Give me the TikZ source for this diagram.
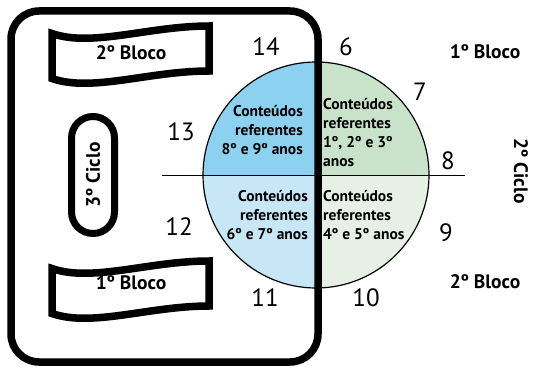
\documentclass[tikz,border=0pt]{standalone}
\usepackage{fontspec}
\setmainfont{PT Sans}
\usepackage{xcolor}
\usepackage{tikz}

\definecolor{azulforte}{HTML}{8DD1F0}
\definecolor{azulclaro}{HTML}{C7E6F6}
\definecolor{verdeforte}{HTML}{C8E3C9}
\definecolor{verdeclaro}{HTML}{E6F0E5}

\tikzset{
  num/.style={font=\fontsize{25}{25}\selectfont},
  rotulo/.style={font=\bfseries\fontsize{19.5}{19.5}\selectfont},
  quad/.style={font=\bfseries\fontsize{15.5}{19}\selectfont, inner sep=0pt},
  faixa/.style={line width=7.5pt, line join=miter}
}

\begin{document}
\begin{tikzpicture}[x=1pt,y=-1pt]
\useasboundingbox (0,0) rectangle (533,369);

% quadrantes do circulo
\begin{scope}
\clip (316,175) circle (113);
\fill[azulforte] (200,60) rectangle (318,175);
\fill[verdeforte] (318,60) rectangle (432,175);
\fill[azulclaro] (200,175) rectangle (318,290);
\fill[verdeclaro] (318,175) rectangle (432,290);
\end{scope}
\draw[line width=1.2pt] (316,175) circle (113);
\draw[line width=1pt] (162,175) -- (465,175);

% caixa do 3o ciclo
\draw[line width=7.5pt, rounded corners=28pt] (11,11) rectangle (318,362);

% faixas
\foreach \x/\y/\d/\t [count=\i] in {52/33.5/19/2º Bloco, 52/268.5/14.5/1º Bloco} {
  \draw[faixa] (\x,\y) .. controls +(40,14) and +(-60,0) .. ++(157,-7.5)
    -- ++(0,45) .. controls +(-60,0) and +(40,14) .. ++(-157,7.5) -- cycle;
  \node[rotulo] (faixa\i) at (\x+79,\y+\d) {\t};
}

\node[rotulo, draw, line width=7pt, rounded corners=21.5pt, rotate=90,
  minimum width=117pt, minimum height=43pt] (ciclo3) at (93,175) {3º Ciclo};

\node[rotulo] (bloco1) at (485,52) {1º Bloco};
\node[rotulo] (bloco2) at (485,282) {2º Bloco};
\node[rotulo, rotate=-90] (ciclo2) at (521,171) {2º Ciclo};

% textos dos quadrantes
\node[quad, align=right, anchor=east] (q89) at (303,130) {Conteúdos\\referentes\\8º e 9º anos};
\node[quad, align=left, anchor=west] (q123) at (323,133) {Conteúdos\\referentes\\1º, 2º e 3º\\anos};
\node[quad, align=right, anchor=east] (q67) at (308,215) {Conteúdos\\referentes\\6º e 7º anos};
\node[quad, align=left, anchor=west] (q45) at (323,215) {Conteúdos\\referentes\\4º e 5º anos};

% numeros
\foreach \n/\x/\y in {14/266/47, 6/346/47, 7/420/92, 8/448/161, 9/446/233,
  10/366/298, 11/265/298, 12/179/227, 13/181/132}
  \node[num] (n\n) at (\x,\y) {\n};
\end{tikzpicture}
\end{document}
